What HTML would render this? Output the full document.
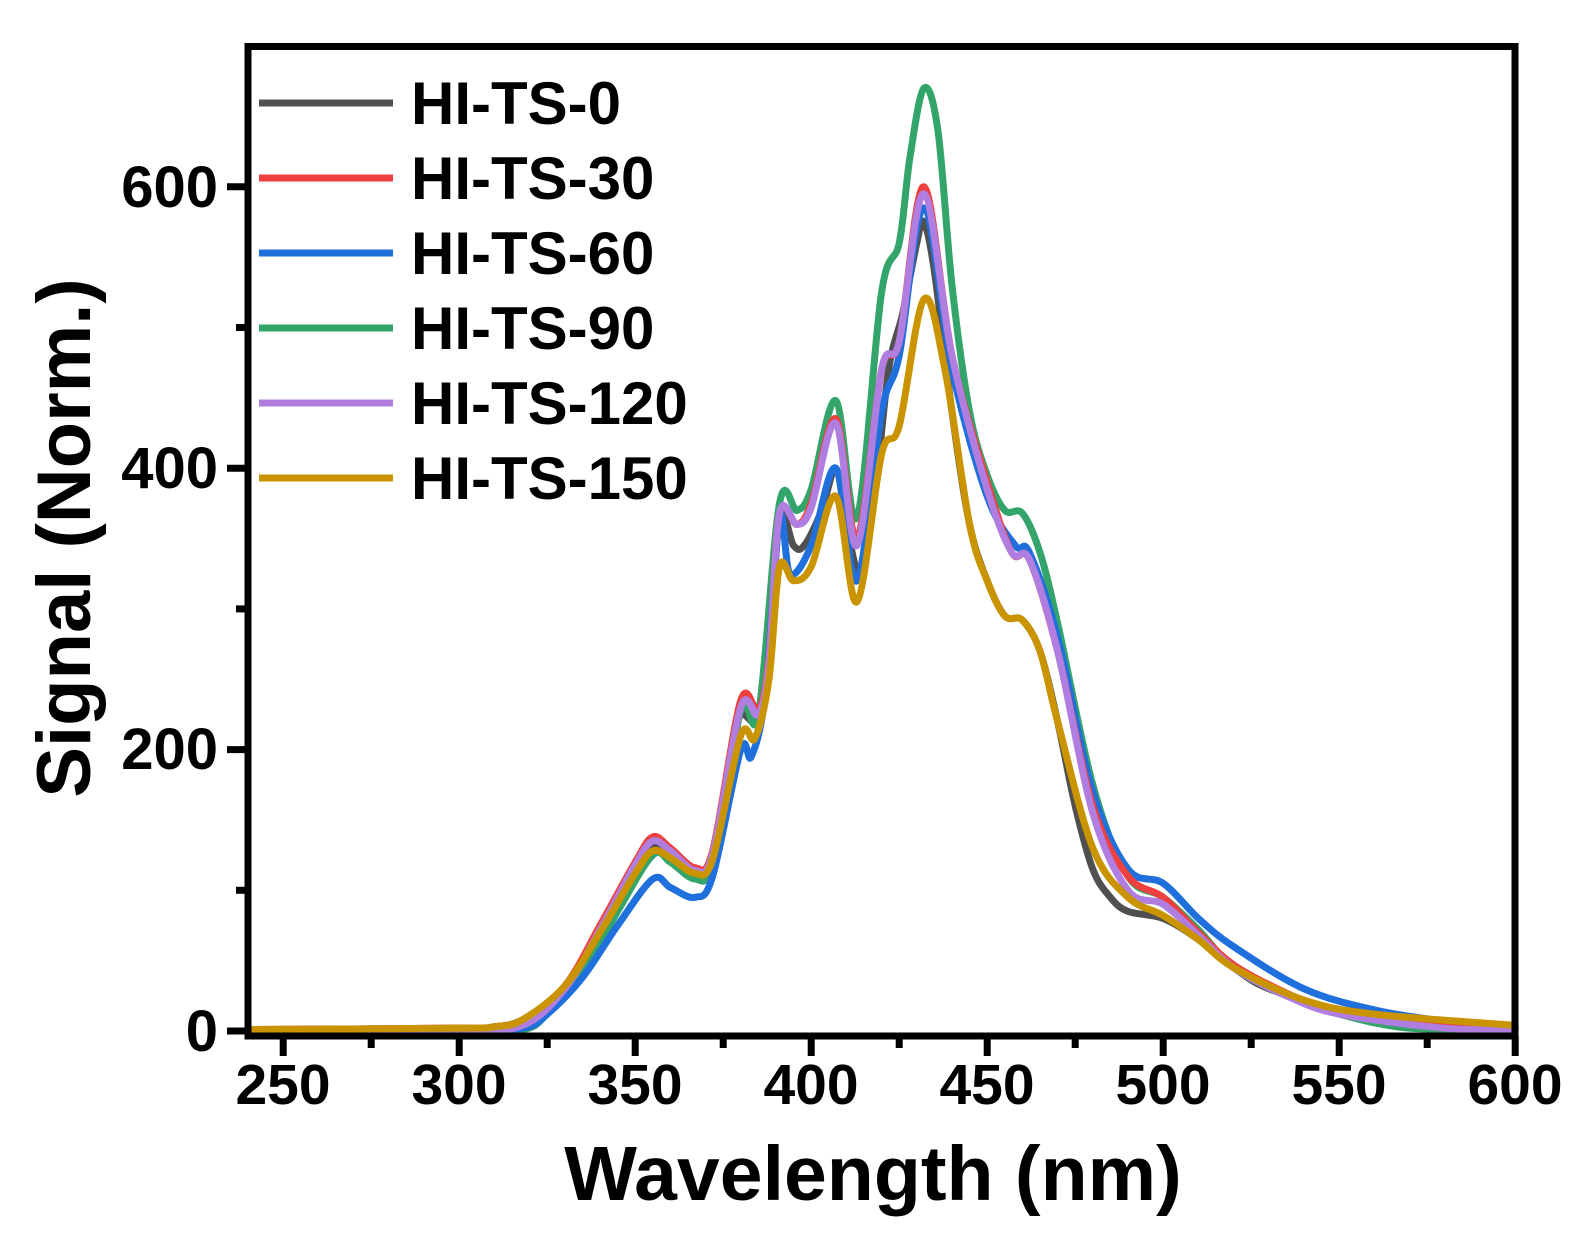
<!DOCTYPE html>
<html><head><meta charset="utf-8"><style>
body{margin:0;background:#fff;}
svg{display:block;font-family:"Liberation Sans",Arial,sans-serif;font-weight:bold;}
</style></head><body>
<svg id="s" width="1591" height="1248" xmlns="http://www.w3.org/2000/svg">
<g id="curves" fill="none" stroke-width="7" stroke-linejoin="round" stroke-linecap="round"></g>
<g stroke="#000" stroke-width="7" fill="none">
<rect x="248" y="46.5" width="1267" height="989.5"/>
</g>
<g id="ticks" stroke="#000" stroke-width="7"></g>
<g font-size="58" text-anchor="end">
<text x="218" y="1051">0</text><text x="218" y="769">200</text><text x="218" y="488">400</text><text x="218" y="207">600</text>
</g>
<g font-size="57" text-anchor="middle">
<text x="283" y="1104">250</text><text x="459" y="1104">300</text><text x="635" y="1104">350</text><text x="811" y="1104">400</text><text x="987" y="1104">450</text><text x="1163" y="1104">500</text><text x="1339" y="1104">550</text><text x="1515" y="1104">600</text>
</g>
<text x="873" y="1200" font-size="77" text-anchor="middle">Wavelength (nm)</text>
<text transform="translate(90,538) rotate(-90)" font-size="76" text-anchor="middle">Signal (Norm.)</text>
<g stroke-width="7">
<line x1="259" y1="103" x2="393" y2="103" stroke="#505050"/>
<line x1="259" y1="178" x2="393" y2="178" stroke="#ef4040"/>
<line x1="259" y1="253" x2="393" y2="253" stroke="#1f6fdc"/>
<line x1="259" y1="328" x2="393" y2="328" stroke="#34a56a"/>
<line x1="259" y1="403" x2="393" y2="403" stroke="#b07ee0"/>
<line x1="259" y1="478" x2="393" y2="478" stroke="#c99400"/>
</g>
<g font-size="60">
<text x="411" y="124">HI-TS-0</text><text x="411" y="199">HI-TS-30</text><text x="411" y="274">HI-TS-60</text><text x="411" y="349">HI-TS-90</text><text x="411" y="424">HI-TS-120</text><text x="411" y="499">HI-TS-150</text>
</g>
</svg>
<script>
const X=v=>248+(v-240)*3.52, Y=v=>1031-v*1.407;
const base=[[240,1],[300,2],[310,3],[318,8]];
const tail=[[510,65],[520,45],[530,30],[550,15],[575,6],[600,3]];
const D={
"#505050":[...base,[330,30],[340,70],[350,110],[355,130],[360,125],[367,112],[372,125],[378,200],[380,225],[385,220],[388,260],[391,365],[395,345],[398,345],[403,370],[407,400],[410,360],[414,325],[418,380],[422,470],[426,510],[430,560],[432,575],[435,540],[440,440],[445,360],[450,320],[455,295],[460,292],[465,270],[470,220],[475,160],[480,115],[485,95],[490,85],[500,80],...tail],
"#34a56a":[[240,1],[300,1],[318,1],[325,12],[335,40],[345,85],[355,125],[360,120],[367,108],[372,120],[380,228],[385,225],[391,375],[396,370],[400,385],[407,448],[413,365],[420,525],[425,560],[428,620],[432,670],[436,640],[440,530],[445,440],[450,395],[455,370],[460,368],[465,340],[470,290],[480,175],[490,110],[500,95],[510,72],[520,45],[535,25],[550,12],[570,2],[600,1]],
"#1f6fdc":[[240,1],[300,1],[318,2],[325,12],[335,38],[345,75],[355,108],[360,102],[367,95],[372,110],[380,200],[383,195],[387,240],[391,365],[394,325],[400,345],[407,400],[413,320],[420,440],[425,480],[432,585],[440,470],[450,380],[458,345],[462,340],[470,280],[480,170],[490,115],[500,105],[510,80],[520,60],[540,30],[560,15],[580,7],[600,3]],
"#ef4040":[...base,[330,32],[340,75],[350,120],[355,138],[360,130],[367,116],[372,128],[380,235],[385,228],[388,265],[391,368],[396,360],[400,375],[407,435],[413,350],[420,470],[425,490],[432,600],[440,480],[450,390],[457,340],[462,335],[470,270],[480,160],[490,110],[500,95],[510,70],[520,47],[535,27],[550,13],[575,4],[600,2]],
"#b07ee0":[[240,1],[300,1],[318,4],[330,30],[340,72],[350,118],[355,135],[360,128],[367,114],[372,126],[380,230],[385,225],[388,262],[391,368],[396,360],[400,372],[407,432],[413,345],[420,470],[425,490],[432,595],[440,480],[450,385],[457,340],[462,335],[470,270],[480,155],[490,100],[500,90],[510,68],[520,45],[535,25],[550,12],[580,2],[600,1]],
"#c99400":[...base,[330,32],[340,70],[350,112],[355,128],[360,123],[367,112],[372,122],[380,210],[384,208],[388,250],[391,330],[395,320],[400,330],[407,380],[413,305],[420,410],[425,430],[432,520],[438,470],[445,360],[450,320],[455,295],[460,292],[465,270],[470,220],[480,130],[490,95],[500,82],[510,65],[520,45],[540,22],[560,12],[600,4]]
};
function path(p){p=p.map(a=>[X(a[0]),Y(a[1])]);let d="M"+p[0][0]+","+p[0][1];
for(let i=0;i<p.length-1;i++){const p0=p[i-1]||p[i],p1=p[i],p2=p[i+1],p3=p[i+2]||p2;
d+=` C${p1[0]+(p2[0]-p0[0])/6},${p1[1]+(p2[1]-p0[1])/6} ${p2[0]-(p3[0]-p1[0])/6},${p2[1]-(p3[1]-p1[1])/6} ${p2[0]},${p2[1]}`;}return d;}
const g=document.getElementById("curves");let h="";
for(const c in D)h+=`<path d="${path(D[c])}" stroke="${c}"/>`;g.innerHTML=h;
let t="";for(let v=250;v<=600;v+=25){const x=X(v),L=v%50==0?17:9;t+=`<line x1="${x}" y1="1036" x2="${x}" y2="${1039+L}"/>`;}
for(let v=0;v<=600;v+=100){const y=Y(v),L=v%200==0?18:9;t+=`<line x1="${245-L}" y1="${y}" x2="248" y2="${y}"/>`;}
document.getElementById("ticks").innerHTML=t;
</script>
</body></html>
